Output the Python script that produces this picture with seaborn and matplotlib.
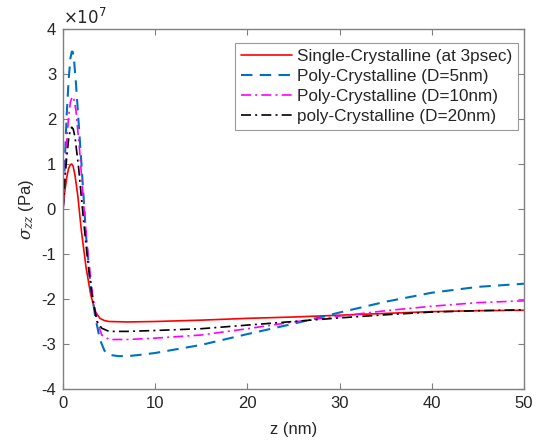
import matplotlib
matplotlib.use("Agg")
import matplotlib.pyplot as plt
import seaborn as sns
import pandas as pd

# depth (nm) and stress sigma_zz (units of 1e7 Pa)
z_single = [0, 0.2, 0.4, 0.6, 0.8, 0.95, 1.1, 1.3, 1.6, 2.0, 2.5, 3.0, 3.5, 4.0, 4.5, 5, 7, 10, 15, 20, 25, 30, 35, 40, 45, 50]
s_single = [0.0, 0.4, 0.7, 0.9, 0.99, 1.0, 0.95, 0.75, 0.3, -0.5, -1.3, -1.9, -2.28, -2.43, -2.48, -2.5, -2.51, -2.5, -2.47, -2.43, -2.4, -2.36, -2.32, -2.28, -2.26, -2.25]

z_d5 = [0, 0.2, 0.4, 0.6, 0.8, 0.95, 1.05, 1.2, 1.4, 1.7, 2.0, 2.5, 3.0, 3.5, 4.0, 4.5, 5, 6, 7, 8, 10, 15, 20, 25, 30, 35, 40, 45, 50]
s_d5 = [0.0, 1.1, 2.1, 2.85, 3.35, 3.5, 3.5, 3.3, 2.8, 1.9, 1.0, -0.6, -1.7, -2.4, -2.9, -3.15, -3.24, -3.27, -3.27, -3.25, -3.2, -3.02, -2.78, -2.55, -2.3, -2.06, -1.86, -1.73, -1.66]

z_d10 = [0, 0.2, 0.4, 0.6, 0.8, 1.0, 1.15, 1.4, 1.8, 2.2, 2.7, 3.2, 3.7, 4.2, 5, 7, 10, 15, 20, 25, 30, 35, 40, 45, 50]
s_d10 = [0.0, 0.8, 1.5, 2.05, 2.38, 2.5, 2.47, 2.2, 1.3, 0.2, -1.0, -1.9, -2.5, -2.8, -2.9, -2.9, -2.87, -2.8, -2.66, -2.51, -2.38, -2.26, -2.16, -2.08, -2.04]

z_d20 = [0, 0.2, 0.4, 0.6, 0.8, 0.95, 1.1, 1.3, 1.7, 2.2, 2.7, 3.2, 3.7, 4.2, 5, 7, 10, 15, 20, 25, 30, 35, 40, 45, 50]
s_d20 = [0.0, 0.65, 1.15, 1.55, 1.77, 1.82, 1.78, 1.6, 0.9, -0.2, -1.2, -2.0, -2.5, -2.65, -2.72, -2.72, -2.7, -2.66, -2.58, -2.5, -2.42, -2.35, -2.29, -2.26, -2.24]

labels = ["Single-Crystalline (at 3psec)", "Poly-Crystalline (D=5nm)",
          "Poly-Crystalline (D=10nm)", "poly-Crystalline (D=20nm)"]
x_ticks = [0, 10, 20, 30, 40, 50]
y_ticks = [-4, -3, -2, -1, 0, 1, 2, 3, 4]

sns.set_style("white")
plt.rcParams["font.family"] = ["Liberation Sans", "DejaVu Sans"]
plt.rcParams["mathtext.fontset"] = "dejavuserif"

FS = 12

fig = plt.figure(figsize=(5.41, 4.42), dpi=100)
ax = fig.add_axes([0.1165, 0.12, 0.852, 0.814])

series = [
    (z_single, s_single, labels[0], "#ff0000", "-", 1.2),
    (z_d5, s_d5, labels[1], "#0072bd", (0, (5.5, 3.5)), 1.5),
    (z_d10, s_d10, labels[2], "#ff00ff", (0, (6, 2.5, 1.2, 2.5)), 1.2),
    (z_d20, s_d20, labels[3], "#000000", (0, (6, 2.5, 1.2, 2.5)), 1.2),
]
for z, s, lab, col, ls, lw in series:
    df = pd.DataFrame({"z": z, "s": s})
    sns.lineplot(data=df, x="z", y="s", ax=ax, color=col, linewidth=lw,
                 label=lab, sort=False, estimator=None)
    ax.lines[-1].set_linestyle(ls)

ax.set_xlim(0, 50)
ax.set_ylim(-4, 4)
ax.set_xticks(x_ticks)
ax.set_yticks(y_ticks)
ax.set_yticklabels([str(v) for v in y_ticks])

grey = "#808080"
text_col = "#262626"
for sp in ax.spines.values():
    sp.set_visible(True)
    sp.set_color(grey)
    sp.set_linewidth(1.0)
ax.tick_params(direction="in", length=4, width=0.8, color=grey,
               labelsize=FS, labelcolor=text_col,
               top=True, right=True, bottom=True, left=True, pad=5)

ax.set_xlabel("z (nm)", fontsize=FS, color=text_col, labelpad=8)
ax.set_ylabel(r"$\sigma_{zz}$ (Pa)", fontsize=FS, color=text_col, labelpad=4)
ax.text(0.0, 1.005, r"$\times 10^{7}$", transform=ax.transAxes, fontsize=FS,
        color=text_col, ha="left", va="bottom",
        math_fontfamily="dejavusans")

leg = ax.legend(loc="upper right", bbox_to_anchor=(0.995, 0.97), fontsize=12.3,
                frameon=True, fancybox=False, handlelength=3.0,
                handletextpad=0.3, borderpad=0.35, labelspacing=0.28,
                borderaxespad=0.2)
leg.get_frame().set_edgecolor(grey)
leg.get_frame().set_linewidth(0.8)
for t in leg.get_texts():
    t.set_color(text_col)

fig.savefig("out.png", dpi=100)
